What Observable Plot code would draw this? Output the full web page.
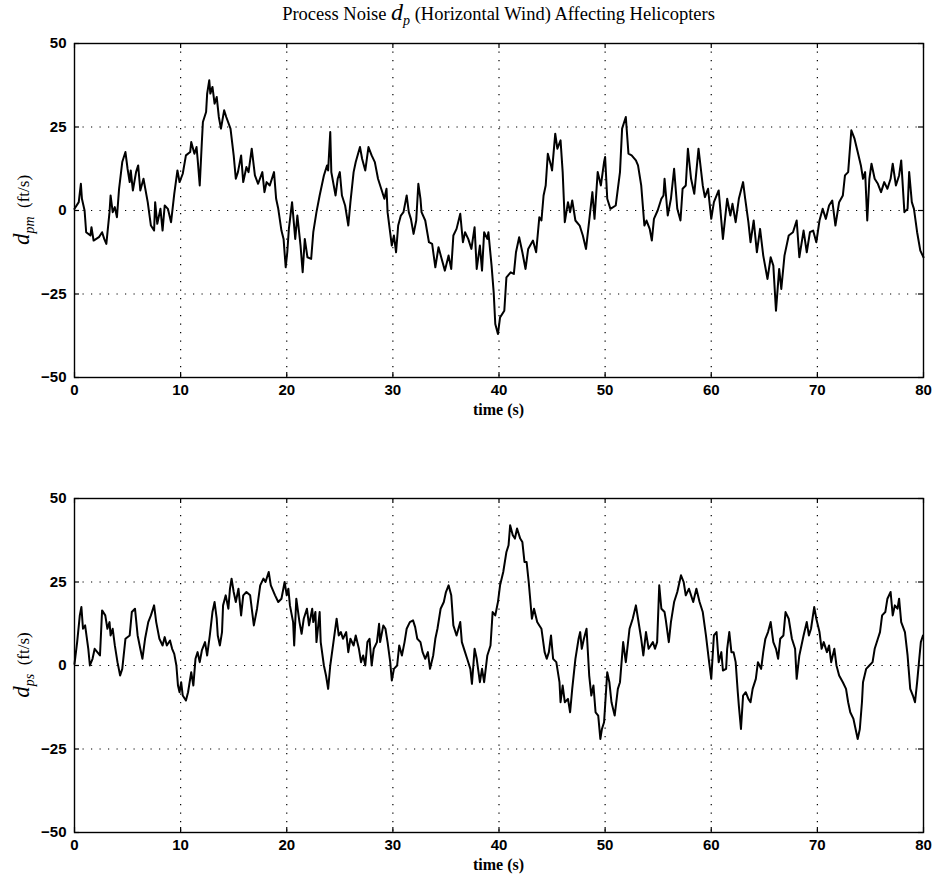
<!DOCTYPE html>
<html><head><meta charset="utf-8">
<script src="https://cdn.jsdelivr.net/npm/d3@7"></script>
<script src="https://cdn.jsdelivr.net/npm/@observablehq/plot@0.6"></script>
<style>
body{margin:0;background:#fff;}
#wrap{position:relative;width:937px;height:886px;overflow:hidden;background:#fff;}
.panel{position:absolute;left:0;}
#title{position:absolute;left:74px;width:849px;top:0px;text-align:center;font-family:"Liberation Serif","Times New Roman",serif;font-size:18.5px;line-height:24px;color:#000;}
#title sub{font-size:14px;}
</style></head><body>
<div id="wrap"></div>
<script>
// ---- data ----
const xTicks = [0, 10, 20, 30, 40, 50, 60, 70, 80];
const yTicks = [-50, -25, 0, 25, 50];
const xGrid = [10, 20, 30, 40, 50, 60, 70];
const yGrid = [-25, 0, 25];

// d_pm (time s, ft/s)
const dpm = [
[0,0.5],[0.4,2.5],[0.6,8],[0.7,3.5],[0.95,0],[1.1,-6.5],[1.5,-7.5],[1.6,-5],[1.8,-9],[2.3,-8],
[2.6,-6.5],[2.8,-8.5],[3.0,-10],[3.3,-0.5],[3.4,4.5],[3.6,-0.5],[3.8,1],[4.0,-2],[4.2,6.5],[4.5,14.5],
[4.8,17.5],[5.0,12.5],[5.2,8.5],[5.3,12],[5.5,6],[5.8,11.5],[6.0,13.5],[6.2,6],[6.5,9.5],[6.9,2.5],
[7.2,-4.5],[7.5,-6],[7.6,2.5],[7.8,-4],[8.1,0.5],[8.3,-6],[8.5,1.5],[8.8,0.5],[9.1,-3.5],[9.4,5],
[9.7,12],[9.9,8.5],[10.2,11],[10.5,16.5],[10.9,17.5],[11.0,20.5],[11.3,17],[11.5,19],[11.6,15.5],[11.8,7.5],
[12.0,20.5],[12.1,26.5],[12.4,29.5],[12.5,35],[12.7,39],[12.8,35],[13.0,37],[13.2,32],[13.4,34],[13.6,28],
[13.8,24.5],[14.1,30],[14.3,28],[14.7,24.5],[15.0,16.5],[15.2,9.5],[15.4,11.5],[15.7,16.5],[15.9,8.5],[16.2,13],
[16.4,11.5],[16.7,18.5],[17.0,10.5],[17.3,8],[17.7,11.5],[17.9,5.5],[18.1,8.5],[18.4,7.5],[18.8,11.5],[19.0,3.5],
[19.2,0.5],[19.5,-6],[19.7,-8.5],[19.9,-17],[20.05,-12.5],[20.2,-5.5],[20.5,2.5],[20.8,-8.5],[21.0,-1.5],[21.3,-10.5],
[21.5,-18.5],[21.7,-8.5],[21.95,-14],[22.3,-14.5],[22.5,-6.5],[22.8,-0.5],[23.1,4.5],[23.5,10.5],[23.8,13.5],[23.9,12],
[24.1,23.5],[24.2,11.5],[24.6,4.5],[24.8,9.5],[25.0,11.5],[25.2,4.5],[25.5,1.5],[25.8,-4.5],[26.0,2.5],[26.3,11.5],
[26.5,14.5],[26.9,19],[27.1,15.5],[27.4,12],[27.7,19],[28.0,16.5],[28.3,14.5],[28.6,9.5],[28.9,6.5],[29.2,3.5],
[29.4,6.5],[29.5,-0.5],[29.7,-5.5],[29.9,-10.5],[30.1,-7.5],[30.3,-12.5],[30.5,-4.5],[30.75,-1.5],[31.0,-0.5],[31.3,4.5],
[31.5,-0.5],[31.7,-2.5],[31.95,-7],[32.2,-3],[32.4,8],[32.6,3.5],[32.7,-0.5],[33.05,-3],[33.4,-9.5],[33.7,-10],
[34.0,-17],[34.3,-11],[34.6,-14.5],[34.9,-18],[35.25,-13.5],[35.5,-17.5],[35.7,-7.5],[36.0,-5.5],[36.35,-1],[36.6,-9.5],
[36.8,-6.5],[37.1,-8.5],[37.4,-11.5],[37.7,-5],[37.9,-17.5],[38.2,-10.5],[38.4,-18],[38.6,-6.5],[38.9,-8.5],[39.0,-6.5],
[39.3,-16.5],[39.5,-24.5],[39.65,-34],[39.9,-37],[40.1,-32],[40.5,-30],[40.7,-20],[41.1,-18.5],[41.4,-19],[41.6,-12.5],
[41.9,-8],[42.2,-12.5],[42.5,-17.5],[42.75,-11.5],[43.2,-9],[43.5,-12.5],[43.8,-2],[44.0,-3],[44.2,4.5],[44.4,7.5],
[44.6,17],[44.9,13.5],[45.0,12],[45.3,23],[45.5,18.5],[45.8,21],[46.0,11.5],[46.2,-3.5],[46.5,2.5],[46.7,-0.5],
[46.9,3],[47.2,-3],[47.6,-4.5],[47.9,-7.5],[48.2,-11.5],[48.5,-3],[48.8,5.5],[49.0,-2.5],[49.3,11.5],[49.6,7.5],
[49.9,14.5],[50.0,16],[50.2,3.5],[50.5,0.5],[51.0,1.5],[51.4,11.5],[51.6,24.5],[51.95,28],[52.2,17],[52.5,16.5],
[52.9,15],[53.1,13.5],[53.4,7.5],[53.7,-4.5],[53.9,-3],[54.2,-5.5],[54.4,-9],[54.6,-2.5],[54.95,0],[55.3,3.5],
[55.5,4.5],[55.6,9.5],[55.9,-1.5],[56.2,3.5],[56.5,12.5],[56.8,0.5],[57.1,-3],[57.3,6.5],[57.6,7.5],[57.8,18.5],
[58.1,9.5],[58.4,5],[58.8,18.5],[59.2,7.5],[59.4,4],[59.7,6.5],[60.0,-2.5],[60.25,2.5],[60.7,6],[61.1,-8.5],
[61.5,3.5],[61.8,-1.5],[62.0,2],[62.3,-3.5],[62.6,3.5],[63.0,8.5],[63.2,3.5],[63.5,-3.5],[63.7,-9.5],[64.0,-3],
[64.3,-12.5],[64.6,-5.5],[64.9,-13.5],[65.3,-20.5],[65.6,-14],[65.85,-16.5],[66.1,-30],[66.4,-17.5],[66.6,-23.5],[66.9,-13.5],
[67.3,-7.5],[67.7,-6.5],[68.05,-3],[68.3,-14],[68.7,-6],[69.0,-12.5],[69.3,-6.5],[69.6,-6],[69.9,-9.5],[70.2,-3],
[70.5,0.5],[70.8,-2.5],[71.1,1.5],[71.4,3],[71.7,-4.5],[72.05,2.5],[72.4,4.5],[72.6,10.5],[72.9,11.5],[73.2,24],
[73.5,21.5],[73.8,17.5],[74.1,13.5],[74.3,9.5],[74.5,11.5],[74.7,-3],[74.9,9.5],[75.1,14],[75.4,9.5],[75.7,8],
[76.0,5.5],[76.3,8.5],[76.6,6.5],[76.9,9.5],[77.1,14],[77.4,7.5],[77.7,10.5],[77.9,15],[78.2,-0.5],[78.5,0.5],
[78.65,11.5],[78.9,2.5],[79.1,0.5],[79.4,-6.5],[79.7,-12],[80,-14]
];

// d_ps (time s, ft/s)
const dps = [
[0,0.5],[0.25,7],[0.5,15],[0.65,17.5],[0.8,11],[1.0,12],[1.3,5],[1.45,0],[1.7,2],[1.9,5],
[2.15,4],[2.4,3],[2.6,16.5],[2.9,15],[3.1,11],[3.3,13],[3.4,9],[3.6,11],[3.8,6],[4.05,1],
[4.3,-3],[4.5,-1],[4.8,8],[5.2,9],[5.4,16],[5.7,17],[5.95,9],[6.2,5],[6.4,2],[6.65,8],
[6.95,13],[7.2,15],[7.5,18],[7.7,13],[8.0,8],[8.3,6],[8.5,8.5],[8.7,6],[9.0,7.5],[9.2,5],
[9.4,3.5],[9.6,0],[9.75,-6],[9.9,-8],[10.05,-5],[10.2,-9],[10.5,-10.5],[10.7,-8],[11.0,-2],[11.2,-6],
[11.4,2],[11.6,4],[11.8,1],[12.0,4.5],[12.3,7],[12.5,3],[12.75,9],[13.0,16],[13.2,19],[13.4,14],
[13.5,9],[13.7,6],[13.9,10],[14.0,18],[14.25,21],[14.5,17],[14.65,23],[14.8,26],[15.0,22],[15.2,19],
[15.45,23],[15.7,15],[15.9,21],[16.2,22],[16.55,21],[16.9,12],[17.2,17],[17.5,24],[17.8,26],[18.0,25],
[18.3,28],[18.5,24],[18.9,21],[19.2,19],[19.5,20],[19.8,25],[20.0,21],[20.15,23],[20.3,18],[20.6,13],
[20.7,6],[20.9,20],[21.2,13],[21.4,9.5],[21.6,14],[21.9,17],[22.1,12],[22.4,17],[22.5,13],[22.7,16],
[22.8,7],[23.1,16],[23.2,7],[23.5,0],[23.7,-3],[23.9,-7],[24.1,0],[24.4,7],[24.7,14],[24.9,9],
[25.1,10],[25.3,8],[25.6,10],[25.8,4],[26.0,8],[26.3,6],[26.5,9],[26.8,5],[27.0,1],[27.2,3],
[27.4,0],[27.6,7],[27.8,8],[28.0,0],[28.2,5],[28.5,7],[28.7,12.5],[28.8,7],[29.1,12],[29.3,11],
[29.5,7],[29.75,1],[29.9,-4.5],[30.1,-1],[30.4,0],[30.6,6],[30.85,3],[31.1,7],[31.3,11],[31.6,13],
[31.9,13.5],[32.1,11.5],[32.3,8],[32.6,7],[32.8,4],[33.05,2],[33.3,4],[33.5,-1],[33.8,3],[34.0,8],
[34.2,11],[34.5,17],[34.8,19],[35.0,22],[35.25,24],[35.5,21],[35.7,12],[36.0,9],[36.35,13],[36.5,7],
[36.8,4],[37.0,2],[37.3,-1],[37.45,-5.5],[37.7,5],[37.9,2],[38.2,-5],[38.4,-1],[38.6,-5],[38.9,3],
[39.2,6],[39.4,16],[39.65,15],[39.9,19],[40.1,24],[40.4,28],[40.7,34],[40.9,36],[41.05,42],[41.3,39],
[41.5,38],[41.7,41],[42.0,38],[42.2,37],[42.4,31],[42.6,31],[42.8,25],[43.1,14],[43.3,17],[43.6,13],
[43.8,12],[44.0,11],[44.3,4],[44.5,2],[44.7,4],[44.9,9],[45.1,2],[45.4,1],[45.7,-5],[45.8,-11],
[46.0,-6],[46.2,-11],[46.5,-10],[46.7,-14],[46.9,-7],[47.2,2],[47.5,8],[47.65,10],[47.8,5],[48.0,8],
[48.25,11],[48.5,-3],[48.7,-9],[48.9,-6],[49.1,-14],[49.35,-15],[49.55,-22],[49.7,-19],[49.9,-17],[50.2,-2],
[50.4,-5],[50.6,-11],[50.9,-15],[51.2,-7],[51.4,-5],[51.7,7],[51.95,1],[52.3,11],[52.6,14],[52.9,18],
[53.1,14],[53.4,8],[53.6,3],[53.85,10],[54.1,5],[54.5,7],[54.7,5],[54.9,7],[55.1,24],[55.3,17],
[55.6,16],[55.7,14],[56.0,7],[56.2,13],[56.5,19],[56.8,22],[57.15,27],[57.4,25],[57.6,21],[57.9,23],
[58.3,19],[58.6,23],[58.9,19],[59.2,16],[59.5,9],[59.8,1],[60.0,-4],[60.25,9],[60.5,10],[60.7,1],
[60.95,4],[61.1,-1.5],[61.4,-1],[61.5,5],[61.7,10],[61.9,4],[62.1,4],[62.3,1],[62.5,-8],[62.6,-12],
[62.8,-19],[63.0,-9],[63.25,-8],[63.5,-10],[63.7,-11],[63.9,-7],[64.2,-4],[64.4,1],[64.7,-1],[64.9,4],
[65.1,8],[65.35,10],[65.6,13],[65.85,7],[66.1,5],[66.3,2],[66.5,8],[66.8,9],[67.0,16],[67.3,14],
[67.6,8],[67.9,5],[68.05,-4],[68.3,3],[68.5,6],[68.7,9],[69.0,13],[69.2,9],[69.4,11],[69.7,17.5],
[69.9,14],[70.2,10],[70.4,5],[70.6,7],[70.9,4],[71.1,6],[71.3,1],[71.6,5],[71.8,0],[72.05,-3],
[72.4,-5],[72.7,-7],[72.9,-11],[73.1,-14],[73.4,-16],[73.6,-19],[73.8,-22],[74.0,-19],[74.2,-11],[74.3,-5],
[74.6,-1],[74.9,0],[75.2,1],[75.4,5],[75.7,8],[75.9,10],[76.1,15],[76.4,16],[76.6,20],[76.9,22],
[77.1,15],[77.3,18],[77.55,17],[77.7,20],[77.9,13],[78.25,10],[78.5,3],[78.75,-7],[79.0,-9],[79.2,-11],
[79.4,-5],[79.6,2],[79.75,7],[79.95,9]
];

const panels = [
  {series: dpm, sub: "pm", top: 1},
  {series: dps, sub: "ps", top: 456}
];

// ---- drawing ----
const W = 937, H = 430, ML = 74, MR = 14, MT = 42, MB = 54;
const PW = W - ML - MR, PH = H - MT - MB;
const wrap = document.getElementById("wrap");
const sansBold = {fontFamily: "'Liberation Sans', Arial, sans-serif", fontWeight: "bold", fontSize: 15};
const serif = "'Liberation Serif', 'Times New Roman', serif";

for (const p of panels) {
  const chart = Plot.plot({
    width: W, height: H,
    marginLeft: ML, marginRight: MR, marginTop: MT, marginBottom: MB,
    style: {background: "transparent", color: "black", overflow: "visible"},
    x: {domain: [0, 80]},
    y: {domain: [-50, 50]},
    marks: [
      Plot.ruleX(xGrid, {x: d => d, stroke: "black", strokeWidth: 1.2, strokeDasharray: "1.2,7.3"}),
      Plot.ruleY(yGrid, {y: d => d, stroke: "black", strokeWidth: 1.2, strokeDasharray: "1.2,7.3"}),
      Plot.tickX(xTicks, {x: d => d, insetTop: PH - 5, stroke: "black", strokeWidth: 1.2}),
      Plot.tickX(xTicks, {x: d => d, insetBottom: PH - 5, stroke: "black", strokeWidth: 1.2}),
      Plot.tickY(yTicks, {y: d => d, insetRight: PW - 5, stroke: "black", strokeWidth: 1.2}),
      Plot.tickY(yTicks, {y: d => d, insetLeft: PW - 5, stroke: "black", strokeWidth: 1.2}),
      Plot.line(p.series, {x: d => d[0], y: d => d[1], stroke: "black", strokeWidth: 2, strokeLinejoin: "round"}),
      Plot.frame({stroke: "black", strokeWidth: 1.4}),
      Plot.axisX({ticks: xTicks, tickSize: 0, tickPadding: 7, label: null, ...sansBold}),
      Plot.axisY({ticks: yTicks, tickSize: 0, tickPadding: 8, label: null, ...sansBold})
    ]
  });
  chart.classList.add("panel");
  chart.style.top = p.top + "px";
  const svg = d3.select(chart);
  // x-axis title
  svg.append("text")
    .attr("x", ML + PW / 2).attr("y", MT + PH + 38)
    .attr("text-anchor", "middle")
    .attr("font-family", serif).attr("font-weight", "bold").attr("font-size", 16)
    .attr("fill", "black")
    .text("time (s)");
  // rotated y-axis title with subscript
  const t = svg.append("text")
    .attr("transform", `translate(29,${MT + PH / 2}) rotate(-90)`)
    .attr("text-anchor", "middle")
    .attr("font-family", serif)
    .attr("font-size", 17)
    .attr("fill", "black");
  t.append("tspan").attr("font-style", "italic").attr("font-size", 23).text("d");
  t.append("tspan").attr("font-style", "italic").attr("font-size", 14).attr("dy", 5).text(p.sub);
  t.append("tspan").attr("dy", -5).text("\u00a0\u00a0(ft/s)");
  wrap.appendChild(chart);
}

const title = document.createElement("div");
title.id = "title";
title.innerHTML = 'Process Noise <i style="font-size:24px">d</i><sub><i>p</i></sub> (Horizontal Wind) Affecting Helicopters';
wrap.appendChild(title);
</script>
</body></html>
